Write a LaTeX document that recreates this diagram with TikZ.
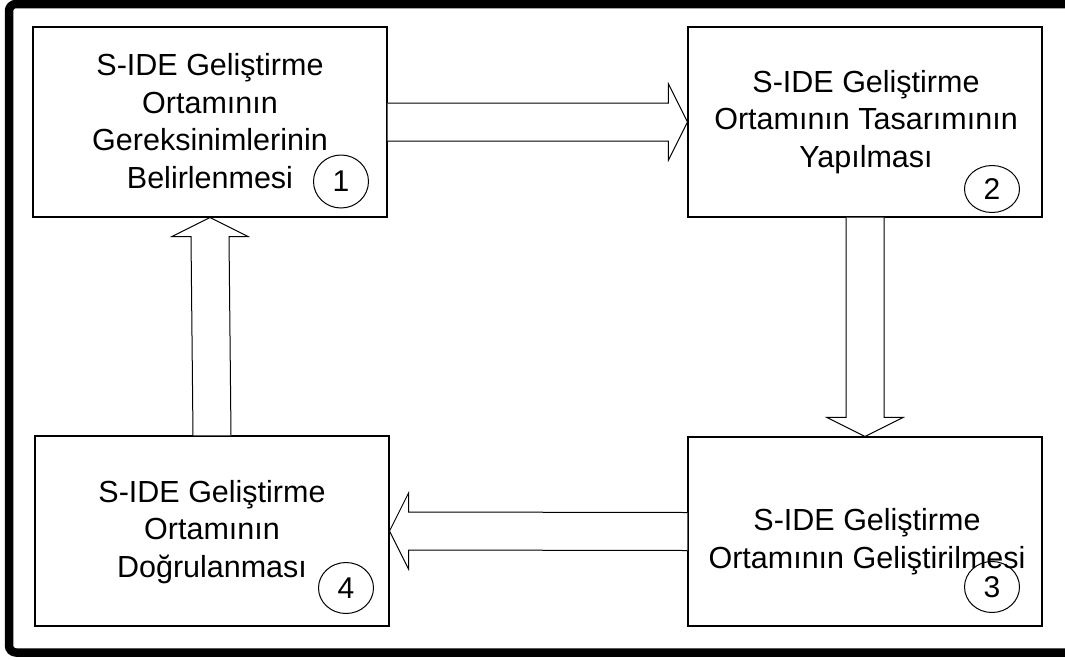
\documentclass[tikz,border=0pt]{standalone}
\usepackage{fontspec}
\setmainfont{Liberation Sans}
\usetikzlibrary{calc,shapes.geometric}
\begin{document}
\begin{tikzpicture}[x=1pt,y=-1pt,
  stepbox/.style={draw=black, line width=1.1pt, fill=white, minimum width=354pt, minimum height=190pt, inner sep=0pt},
  boxtext/.style={font=\fontsize{30.5}{37.5}\selectfont, align=center, inner sep=0pt, anchor=base},
  numcirc/.style={draw, ellipse, line width=1pt, inner sep=0pt, minimum width=55pt, minimum height=53pt, font=\fontsize{30}{35}\selectfont},
  blockarrow/.style={draw, line width=1pt, fill=white, line join=miter}]
\useasboundingbox (0,0) rectangle (1065,659);
% heavy outer frame, open on the right
\draw[line width=8.5pt, rounded corners=7pt] (1080,4) -- (9,4) -- (9,652.5) -- (1080,652.5);

% process boxes
\node[stepbox] (b1) at (210,122) {};
\node[stepbox] (b2) at (865,122) {};
\node[stepbox, minimum height=189pt] (b3) at (865,531.5) {};
\node[stepbox] (b4) at (212,531) {};

% box texts (anchored on the baseline of their last line)
\node[boxtext] (t1) at (210,188) {S-IDE Geliştirme\\Ortamının\\Gereksinimlerinin\\Belirlenmesi};
\node[boxtext] (t2) at (866,167) {S-IDE Geliştirme\\Ortamının Tasarımının\\Yapılması};
\node[boxtext] (t3) at (867,568) {S-IDE Geliştirme\\Ortamının Geliştirilmesi};
\node[boxtext] (t4) at (212,577) {S-IDE Geliştirme\\Ortamının\\Doğrulanması};

% step numbers
\node[numcirc] (n1) at (341,181.5) {1};
\node[numcirc, minimum height=47pt] (n2) at (992,189) {2};
\node[numcirc, minimum height=51pt] (n3) at (992,587) {3};
\node[numcirc, minimum height=51pt] (n4) at (346,588) {4};

% block arrows between the steps
\draw[blockarrow] ($(b1.east)+(0,-19)$) -- ($(b2.west)+(-19,-19)$) -- ($(b2.west)+(-19,-38)$)
  -- (b2.west) -- ($(b2.west)+(-19,38)$) -- ($(b2.west)+(-19,19)$) -- ($(b1.east)+(0,19)$);
\draw[blockarrow] ($(b2.south)+(-19,0)$) -- ($(b3.north)+(-19,-19)$) -- ($(b3.north)+(-38,-19)$)
  -- (b3.north) -- ($(b3.north)+(38,-19)$) -- ($(b3.north)+(19,-19)$) -- ($(b2.south)+(19,0)$);
\draw[blockarrow] ($(b3.west)+(0,-19)$) -- ($(b4.east)+(19,-19)$) -- ($(b4.east)+(19,-38)$)
  -- (b4.east) -- ($(b4.east)+(19,38)$) -- ($(b4.east)+(19,19)$) -- ($(b3.west)+(0,19)$);
\draw[blockarrow] ($(b4.north)+(-19,0)$) -- ($(b1.south)+(-19,19)$) -- ($(b1.south)+(-38,19)$)
  -- (b1.south) -- ($(b1.south)+(38,19)$) -- ($(b1.south)+(19,19)$) -- ($(b4.north)+(19,0)$);
\end{tikzpicture}
\end{document}
